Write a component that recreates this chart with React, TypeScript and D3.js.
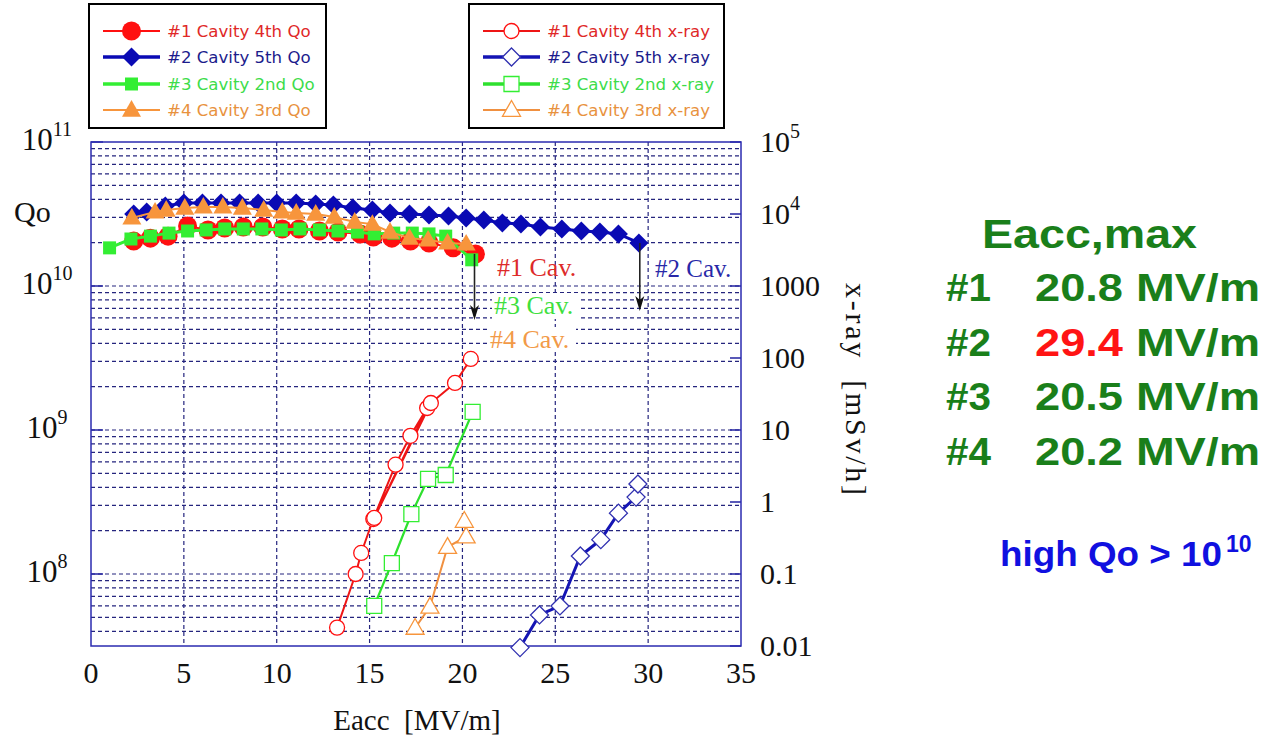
import React from 'react';
import * as d3 from 'd3';

// ---------- data ----------
const X_TICKS = [0, 5, 10, 15, 20, 25, 30, 35];
const LEFT_EXPS = [11, 10, 9, 8];
const RIGHT_TICK_VALUES = [1e5, 1e4, 1e3, 100, 10, 1, 0.1, 0.01];
const RIGHT_TICK_LABELS = [['10', '5'], ['10', '4'], ['1000'], ['100'], ['10'], ['1'], ['0.1'], ['0.01']];

// Qo (left axis)
const Q1_E = [2.3, 3.2, 4.15, 5.2, 6.3, 7.2, 8.2, 9.25, 10.3, 11.2, 12.3, 13.3, 14.5, 15.2, 16.2, 17.2, 18.2, 19.5, 20.7];
const Q1_V = [2.05e10, 2.15e10, 2.22e10, 2.61e10, 2.45e10, 2.53e10, 2.57e10, 2.57e10, 2.49e10, 2.49e10, 2.41e10, 2.37e10, 2.3e10, 2.19e10, 2.15e10, 2.05e10, 1.99e10, 1.84e10, 1.67e10];

const Q2_E = [2.3, 3.0, 4.0, 5.0, 6.0, 7.0, 8.0, 9.0, 10.0, 11.05, 12.1, 13.05, 14.1, 15.15, 16.1, 17.15, 18.2, 19.25, 20.2, 21.15, 22.15, 23.15, 24.2, 25.35, 26.4, 27.4, 28.4, 29.5];
const Q2_V = [3.16e10, 3.27e10, 3.59e10, 3.77e10, 3.77e10, 3.77e10, 3.77e10, 3.77e10, 3.77e10, 3.77e10, 3.71e10, 3.65e10, 3.48e10, 3.37e10, 3.21e10, 3.16e10, 3.11e10, 3.06e10, 2.97e10, 2.87e10, 2.74e10, 2.69e10, 2.57e10, 2.49e10, 2.41e10, 2.37e10, 2.3e10, 1.99e10];

const Q3_E = [1.0, 2.15, 3.2, 4.2, 5.2, 6.2, 7.2, 8.2, 9.2, 10.25, 11.25, 12.3, 13.3, 14.35, 15.25, 16.3, 17.3, 18.2, 19.1, 20.5];
const Q3_V = [1.84e10, 2.12e10, 2.22e10, 2.33e10, 2.41e10, 2.45e10, 2.49e10, 2.49e10, 2.49e10, 2.45e10, 2.49e10, 2.45e10, 2.41e10, 2.37e10, 2.3e10, 2.33e10, 2.33e10, 2.3e10, 2.22e10, 1.52e10];

const Q4_E = [2.2, 3.45, 4.05, 5.05, 6.05, 7.1, 8.15, 9.3, 10.3, 11.05, 12.1, 13.1, 14.2, 15.15, 16.1, 17.15, 18.15, 19.2, 20.2];
const Q4_V = [2.97e10, 3.27e10, 3.37e10, 3.48e10, 3.54e10, 3.54e10, 3.48e10, 3.37e10, 3.27e10, 3.21e10, 3.16e10, 3.01e10, 2.78e10, 2.69e10, 2.37e10, 2.15e10, 2.09e10, 1.99e10, 1.96e10];

// x-ray (right axis, mSv/h)
const X1_E = [13.25, 14.25, 14.55, 15.2, 16.4, 17.2, 18.1, 15.25, 18.3, 19.6, 20.45];
const X1_V = [0.018, 0.1, 0.196, 0.58, 3.3, 8.3, 20.2, 0.6, 23.7, 45, 97];

const X2_E = [23.1, 24.15, 25.25, 26.35, 27.45, 28.4, 29.35, 29.45];
const X2_V = [0.0095, 0.027, 0.036, 0.178, 0.3, 0.7, 1.17, 1.78];

const X3_E = [15.25, 16.2, 17.25, 18.15, 19.1, 20.55];
const X3_V = [0.036, 0.142, 0.68, 2.09, 2.37, 17.8];

const X4_E = [17.45, 18.25, 19.2, 20.2, 20.1];
const X4_V = [0.0178, 0.035, 0.237, 0.33, 0.545];

const LEGEND_QO = ['#1 Cavity 4th Qo', '#2 Cavity 5th Qo', '#3 Cavity 2nd Qo', '#4 Cavity 3rd Qo'];
const LEGEND_XR = ['#1 Cavity 4th x-ray', '#2 Cavity 5th x-ray', '#3 Cavity 2nd x-ray', '#4 Cavity 3rd x-ray'];
const EMAX_LABELS = ['#1', '#2', '#3', '#4'];
const EMAX_VALUES = ['20.8', '29.4', '20.5', '20.2'];

// ---------- styles ----------
const C_RED = '#ff1010';
const C_BLUE = '#0a0ab4';
const C_GREEN = '#33ee33';
const C_ORANGE = '#f7953c';
const TXT = ['#e02828', '#1c1c8c', '#3ddc4a', '#e8923e'];
const SERIF = '"Liberation Serif", "Times New Roman", serif';
const SANS = '"Liberation Sans", Arial, sans-serif';

type Shape = 'circle' | 'diamond' | 'square' | 'triangle';

function markerPath(shape: Shape, x: number, y: number, s: number): string {
  if (shape === 'circle') {
    return `M${x - s},${y}a${s},${s} 0 1,0 ${2 * s},0a${s},${s} 0 1,0 ${-2 * s},0Z`;
  }
  if (shape === 'diamond') {
    return `M${x},${y - s}L${x + s},${y}L${x},${y + s}L${x - s},${y}Z`;
  }
  if (shape === 'square') {
    return `M${x - s},${y - s}h${2 * s}v${2 * s}h${-2 * s}Z`;
  }
  const h = s * 1.75;
  return `M${x},${y - h * 0.6}L${x + s},${y + h * 0.4}L${x - s},${y + h * 0.4}Z`;
}

const xs = d3.scaleLinear().domain([0, 35]).range([91, 741]);
const yl = d3.scaleLog().domain([Math.pow(10, 7.5), 1e11]).range([646, 142]);
const yr = d3.scaleLog().domain([0.01, 1e5]).range([646, 142]);

const line = d3.line<[number, number]>().x((d) => d[0]).y((d) => d[1]);

interface Series {
  E: number[];
  V: number[];
  axis: 'L' | 'R';
  color: string;
  lineColor: string;
  lineWidth: number;
  shape: Shape;
  size: number;
  filled: boolean;
}

const QO_SERIES: Series[] = [
  { E: Q1_E, V: Q1_V, axis: 'L', color: C_RED, lineColor: C_RED, lineWidth: 2, shape: 'circle', size: 9.5, filled: true },
  { E: Q2_E, V: Q2_V, axis: 'L', color: C_BLUE, lineColor: C_BLUE, lineWidth: 3, shape: 'diamond', size: 9.5, filled: true },
  { E: Q3_E, V: Q3_V, axis: 'L', color: C_GREEN, lineColor: C_GREEN, lineWidth: 3, shape: 'square', size: 6.5, filled: true },
  { E: Q4_E, V: Q4_V, axis: 'L', color: C_ORANGE, lineColor: C_ORANGE, lineWidth: 2, shape: 'triangle', size: 9.5, filled: true },
];

const XR_SERIES: Series[] = [
  { E: X1_E, V: X1_V, axis: 'R', color: C_RED, lineColor: '#ee1515', lineWidth: 2, shape: 'circle', size: 7.5, filled: false },
  { E: X2_E, V: X2_V, axis: 'R', color: '#3030b0', lineColor: '#1414b4', lineWidth: 3, shape: 'diamond', size: 9, filled: false },
  { E: X3_E, V: X3_V, axis: 'R', color: C_GREEN, lineColor: '#2ee02e', lineWidth: 2.2, shape: 'square', size: 7.5, filled: false },
  { E: X4_E, V: X4_V, axis: 'R', color: C_ORANGE, lineColor: '#f09040', lineWidth: 2, shape: 'triangle', size: 9, filled: false },
];

function SeriesView({ s }: { s: Series }) {
  const ys = s.axis === 'L' ? yl : yr;
  const pts: [number, number][] = s.E.map((e, i) => [xs(e), ys(s.V[i])]);
  return (
    <g>
      <path d={line(pts) || ''} fill="none" stroke={s.lineColor} strokeWidth={s.lineWidth} />
      {pts.map((p, i) => (
        <path
          key={i}
          d={markerPath(s.shape, p[0], p[1], s.size)}
          fill={s.filled ? s.color : '#ffffff'}
          stroke={s.color}
          strokeWidth={s.filled ? 0 : 1.3}
        />
      ))}
    </g>
  );
}

function LegendBox({ x, y, w, h, labels, series }: { x: number; y: number; w: number; h: number; labels: string[]; series: Series[] }) {
  const rowY = [31, 57, 84, 110];
  const lx1 = x + 14;
  const lx2 = x + 71;
  const mx = (lx1 + lx2) / 2;
  return (
    <g>
      <rect x={x} y={y} width={w} height={h} fill="#ffffff" stroke="#000000" strokeWidth={2} />
      {labels.map((lab, i) => {
        const s = series[i];
        const ry = rowY[i];
        return (
          <g key={i}>
            <line x1={lx1} x2={lx2} y1={ry} y2={ry} stroke={s.lineColor} strokeWidth={i === 1 || i === 2 ? 3.5 : 2} />
            <path d={markerPath(s.shape, mx, ry, s.size)} fill={s.filled ? s.color : '#ffffff'} stroke={s.color} strokeWidth={s.filled ? 0 : 1.3} />
            <text x={x + 78} y={ry + 6} fontFamily='"DejaVu Sans", sans-serif' fontSize={16.6} fill={TXT[i]}>
              {lab}
            </text>
          </g>
        );
      })}
    </g>
  );
}

export default function App() {
  const [x0, x1] = xs.range();
  const [yb, yt] = yl.range();

  const minorGrid: number[] = [];
  for (let n = 7; n <= 10; n++) {
    for (let k = 1; k <= 9; k++) {
      const v = k * Math.pow(10, n);
      if (v > yl.domain()[0] && v < yl.domain()[1]) minorGrid.push(v);
    }
  }

  const arrow = (e: number, v0: number, v1: number) => {
    const x = xs(e);
    const ya = yl(v0);
    const yb2 = yl(v1);
    return (
      <g>
        <line x1={x} x2={x} y1={ya} y2={yb2 - 4} stroke="#222" strokeWidth={1.6} />
        <path d={`M${x},${yb2}L${x - 4.5},${yb2 - 15}L${x},${yb2 - 11}L${x + 4.5},${yb2 - 15}Z`} fill="#111" />
      </g>
    );
  };

  return (
    <svg width={1283} height={739} style={{ position: 'absolute', left: 0, top: 0, background: '#fff' }}>
      <rect x={0} y={0} width={1283} height={739} fill="#ffffff" />

      {/* grid */}
      <g stroke="#25257e" strokeWidth={1.2} strokeDasharray="4,3">
        {minorGrid.map((v, i) => (
          <line key={i} x1={x0} x2={x1} y1={yl(v)} y2={yl(v)} />
        ))}
        {X_TICKS.slice(1, -1).map((t) => (
          <line key={t} x1={xs(t)} x2={xs(t)} y1={yt} y2={yb} />
        ))}
      </g>

      {/* decade ticks */}
      <g stroke="#2222a0" strokeWidth={1.5}>
        {LEFT_EXPS.map((e) => (
          <line key={e} x1={x0} x2={x0 + 12} y1={yl(Math.pow(10, e))} y2={yl(Math.pow(10, e))} />
        ))}
        {RIGHT_TICK_VALUES.map((v) => (
          <line key={v} x1={x1 - 11} x2={x1} y1={yr(v)} y2={yr(v)} />
        ))}
      </g>

      {/* frame */}
      <rect x={x0} y={yt} width={x1 - x0} height={yb - yt} fill="none" stroke="#2b2bb0" strokeWidth={1.5} />

      {/* labels with white background */}
      <rect x={492} y={293} width={88} height={26} fill="#ffffff" />
      <rect x={488} y={327} width={88} height={25} fill="#ffffff" />

      {/* series */}
      {XR_SERIES.map((s, i) => (
        <SeriesView key={'x' + i} s={s} />
      ))}
      {QO_SERIES.map((s, i) => (
        <SeriesView key={'q' + i} s={s} />
      ))}

      {/* arrows */}
      {arrow(20.65, 1.67e10, 5.8e9)}
      {arrow(29.55, 1.99e10, 6.7e9)}

      {/* annotations */}
      <text x={497} y={276} fontFamily={SERIF} fontSize={26} fill="#dd2a2a">#1 Cav.</text>
      <text x={494} y={314} fontFamily={SERIF} fontSize={26} fill="#3ee03e">#3 Cav.</text>
      <text x={490} y={348} fontFamily={SERIF} fontSize={26} fill="#f29a48">#4 Cav.</text>
      <text x={655} y={277} fontFamily={SERIF} fontSize={25} fill="#2828a8">#2 Cav.</text>

      {/* left axis labels */}
      {LEFT_EXPS.map((e) => (
        <text key={e} x={47} y={yl(Math.pow(10, e)) + 8} fontFamily={SERIF} fontSize={31} textAnchor="middle" fill="#111">
          <tspan>10</tspan>
          <tspan dy={-14} fontSize={20}>{String(e)}</tspan>
        </text>
      ))}
      <text x={14} y={222} fontFamily={SERIF} fontSize={30} fill="#111">Qo</text>

      {/* right axis labels */}
      {RIGHT_TICK_VALUES.map((v, i) => {
        const lab = RIGHT_TICK_LABELS[i];
        return (
          <text key={v} x={760} y={yr(v) + 10} fontFamily={SERIF} fontSize={30} fill="#111">
            <tspan>{lab[0]}</tspan>
            {lab.length > 1 ? (
              <tspan dy={-14} fontSize={20}>{lab[1]}</tspan>
            ) : null}
          </text>
        );
      })}
      <text
        transform="translate(846,283) rotate(90)"
        fontFamily={SERIF}
        fontSize={30}
        fill="#111"
        textLength={212}
        lengthAdjust="spacing"
        style={{ whiteSpace: 'pre' }}
      >
        {'x-ray  [mSv/h]'}
      </text>

      {/* x axis labels */}
      {X_TICKS.map((t) => (
        <text key={t} x={xs(t)} y={683} fontFamily={SERIF} fontSize={30} textAnchor="middle" fill="#111">
          {String(t)}
        </text>
      ))}
      <text x={417} y={730} fontFamily={SERIF} fontSize={29} textAnchor="middle" fill="#111" style={{ whiteSpace: 'pre' }}>
        {'Eacc  [MV/m]'}
      </text>

      {/* legends */}
      <LegendBox x={89} y={4} w={237} h={124} labels={LEGEND_QO} series={QO_SERIES} />
      <LegendBox x={469} y={4} w={255} h={124} labels={LEGEND_XR} series={XR_SERIES} />

      {/* right side text */}
      <text x={982} y={248} fontFamily={SANS} fontWeight="bold" fontSize={40} fill="#1a7f1a" textLength={215} lengthAdjust="spacingAndGlyphs">
        Eacc,max
      </text>
      {EMAX_LABELS.map((lab, i) => {
        const by = 301 + i * 54.5;
        return (
          <g key={lab}>
            <text x={946} y={by} fontFamily={SANS} fontWeight="bold" fontSize={39} fill="#1a7f1a" textLength={45} lengthAdjust="spacingAndGlyphs">
              {lab}
            </text>
            <text x={1035} y={by} fontFamily={SANS} fontWeight="bold" fontSize={39} fill={i === 1 ? '#ff1414' : '#1a7f1a'} textLength={88} lengthAdjust="spacingAndGlyphs">
              {EMAX_VALUES[i]}
            </text>
            <text x={1136} y={by} fontFamily={SANS} fontWeight="bold" fontSize={39} fill="#1a7f1a" textLength={124} lengthAdjust="spacingAndGlyphs">
              MV/m
            </text>
          </g>
        );
      })}
      <text x={1000} y={566} fontFamily={SANS} fontWeight="bold" fontSize={35} fill="#1010e0" textLength={222} lengthAdjust="spacingAndGlyphs" style={{ whiteSpace: 'pre' }}>
        {'high Qo > 10'}
      </text>
      <text x={1226} y={552} fontFamily={SANS} fontWeight="bold" fontSize={23} fill="#1010e0">
        10
      </text>
    </svg>
  );
}
